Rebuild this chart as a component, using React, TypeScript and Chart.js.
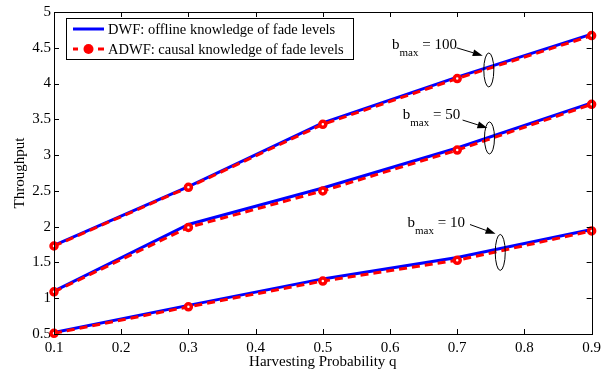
import React, { useEffect, useRef } from "react";
import { Chart, registerables } from "chart.js";

Chart.register(...registerables);

// ---------- data ----------
const qValues = [0.1, 0.3, 0.5, 0.7, 0.9];
const dwf100 = [1.74, 2.56, 3.45, 4.09, 4.69];
const adwf100 = [1.73, 2.55, 3.43, 4.07, 4.67];
const dwf50 = [1.1, 2.03, 2.54, 3.1, 3.73];
const adwf50 = [1.09, 1.99, 2.5, 3.07, 3.71];
const dwf10 = [0.52, 0.9, 1.27, 1.57, 1.96];
const adwf10 = [0.51, 0.88, 1.24, 1.53, 1.94];

const xTicks = [0.1, 0.2, 0.3, 0.4, 0.5, 0.6, 0.7, 0.8, 0.9];
const yTicks = [0.5, 1, 1.5, 2, 2.5, 3, 3.5, 4, 4.5, 5];
const xTickLabels = ["0.1", "0.2", "0.3", "0.4", "0.5", "0.6", "0.7", "0.8", "0.9"];
const yTickLabels = ["0.5", "1", "1.5", "2", "2.5", "3", "3.5", "4", "4.5", "5"];

const legendLabels = [
  "DWF: offline knowledge of fade levels",
  "ADWF: causal knowledge of fade levels",
];

// annotations (in data coordinates)
const annLabels = ["100", "50", "10"];
const annText = [
  [0.603, 4.48],
  [0.619, 3.51],
  [0.626, 1.99],
];
const annArrowFrom = [
  [0.699, 4.5],
  [0.708, 3.49],
  [0.719, 2.03],
];
const annArrowTo = [
  [0.738, 4.39],
  [0.745, 3.38],
  [0.757, 1.9],
];
const annEllipse = [
  [0.747, 4.19],
  [0.748, 3.24],
  [0.764, 1.64],
];
const annEllipseRy = [17, 16, 18];

const SERIF = '"Liberation Serif", "Times New Roman", serif';
const BLUE = "#0000ff";
const RED = "#ff0000";

const toPts = (ys: number[]) => qValues.map((q, i) => ({ x: q, y: ys[i] }));

const matlabPlugin = {
  id: "matlabDecor",
  afterDraw(chart: any) {
    const { ctx, chartArea } = chart;
    const { left, right, top, bottom } = chartArea;
    const xs = chart.scales.x;
    const ys = chart.scales.y;
    ctx.save();
    // frame
    ctx.strokeStyle = "#000";
    ctx.lineWidth = 1;
    ctx.strokeRect(Math.round(left) + 0.5, Math.round(top) + 0.5, Math.round(right - left), Math.round(bottom - top));
    // inward ticks
    const tl = 5;
    ctx.beginPath();
    xTicks.forEach((v) => {
      const px = Math.round(xs.getPixelForValue(v)) + 0.5;
      ctx.moveTo(px, bottom);
      ctx.lineTo(px, bottom - tl);
      ctx.moveTo(px, top);
      ctx.lineTo(px, top + tl);
    });
    yTicks.forEach((v) => {
      const py = Math.round(ys.getPixelForValue(v)) + 0.5;
      ctx.moveTo(left, py);
      ctx.lineTo(left + tl, py);
      ctx.moveTo(right, py);
      ctx.lineTo(right - tl, py);
    });
    ctx.stroke();

    // legend
    const lx = left + 12;
    const ly = top + 6;
    const lw = 287;
    const lh = 41;
    ctx.fillStyle = "#fff";
    ctx.fillRect(lx, ly, lw, lh);
    ctx.strokeStyle = "#000";
    ctx.lineWidth = 1;
    ctx.strokeRect(lx + 0.5, ly + 0.5, lw, lh);
    const row1 = ly + 11;
    const row2 = ly + 31;
    ctx.lineWidth = 3;
    ctx.strokeStyle = BLUE;
    ctx.beginPath();
    ctx.moveTo(lx + 7, row1);
    ctx.lineTo(lx + 38, row1);
    ctx.stroke();
    ctx.strokeStyle = RED;
    ctx.beginPath();
    ctx.moveTo(lx + 7, row2);
    ctx.lineTo(lx + 12, row2);
    ctx.moveTo(lx + 32, row2);
    ctx.lineTo(lx + 38, row2);
    ctx.stroke();
    ctx.fillStyle = RED;
    ctx.beginPath();
    ctx.arc(lx + 22.5, row2, 5, 0, Math.PI * 2);
    ctx.fill();
    ctx.fillStyle = "#000";
    ctx.font = `14.5px ${SERIF}`;
    ctx.textBaseline = "middle";
    ctx.textAlign = "left";
    ctx.fillText(legendLabels[0], lx + 42, row1 + 1);
    ctx.fillText(legendLabels[1], lx + 42, row2 + 1);

    // annotations
    annLabels.forEach((lab, i) => {
      const tx = xs.getPixelForValue(annText[i][0]);
      const ty = ys.getPixelForValue(annText[i][1]);
      ctx.fillStyle = "#000";
      ctx.textBaseline = "alphabetic";
      ctx.font = `15px ${SERIF}`;
      ctx.fillText("b", tx, ty);
      const bw = ctx.measureText("b").width;
      ctx.font = `11px ${SERIF}`;
      ctx.fillText("max", tx + bw, ty + 7);
      const mw = ctx.measureText("max").width;
      ctx.font = `15px ${SERIF}`;
      ctx.fillText(" = " + lab, tx + bw + mw, ty);

      const ax0 = xs.getPixelForValue(annArrowFrom[i][0]);
      const ay0 = ys.getPixelForValue(annArrowFrom[i][1]);
      const ax1 = xs.getPixelForValue(annArrowTo[i][0]);
      const ay1 = ys.getPixelForValue(annArrowTo[i][1]);
      const ang = Math.atan2(ay1 - ay0, ax1 - ax0);
      const hl = 10;
      const hw = 3.5;
      const bx = ax1 - hl * Math.cos(ang);
      const by = ay1 - hl * Math.sin(ang);
      ctx.strokeStyle = "#000";
      ctx.lineWidth = 1;
      ctx.beginPath();
      ctx.moveTo(ax0, ay0);
      ctx.lineTo(bx, by);
      ctx.stroke();
      ctx.beginPath();
      ctx.moveTo(ax1, ay1);
      ctx.lineTo(bx - hw * Math.sin(ang), by + hw * Math.cos(ang));
      ctx.lineTo(bx + hw * Math.sin(ang), by - hw * Math.cos(ang));
      ctx.closePath();
      ctx.fill();

      const ex = xs.getPixelForValue(annEllipse[i][0]);
      const ey = ys.getPixelForValue(annEllipse[i][1]);
      ctx.beginPath();
      ctx.ellipse(ex, ey, 5, annEllipseRy[i], 0, 0, Math.PI * 2);
      ctx.stroke();
    });
    ctx.restore();
  },
};

export default function App() {
  const ref = useRef<HTMLCanvasElement | null>(null);
  useEffect(() => {
    if (!ref.current) return;
    const blueDs = (ys: number[]) => ({
      data: toPts(ys),
      borderColor: BLUE,
      backgroundColor: BLUE,
      borderWidth: 3,
      pointRadius: 0,
      tension: 0,
      clip: false as any,
      order: 2,
    });
    const redDs = (ys: number[]) => ({
      data: toPts(ys),
      borderColor: RED,
      backgroundColor: RED,
      borderWidth: 3,
      borderDash: [8, 5],
      pointRadius: 3,
      pointBorderWidth: 3.5,
      pointBorderColor: RED,
      pointBackgroundColor: "#fff",
      tension: 0,
      clip: false as any,
      order: 1,
    });
    const chart = new Chart(ref.current, {
      type: "line",
      data: {
        datasets: [
          blueDs(dwf100),
          redDs(adwf100),
          blueDs(dwf50),
          redDs(adwf50),
          blueDs(dwf10),
          redDs(adwf10),
        ] as any,
      },
      options: {
        animation: false,
        responsive: false,
        layout: { padding: { top: 11, right: 14, left: 0, bottom: 0 } },
        plugins: { legend: { display: false }, tooltip: { enabled: false } },
        scales: {
          x: {
            type: "linear",
            min: 0.1,
            max: 0.9,
            grid: { display: false, drawTicks: false },
            border: { display: false },
            afterBuildTicks: (s: any) => {
              s.ticks = xTicks.map((v) => ({ value: v }));
            },
            afterFit: (s: any) => {
              s.height = 38;
            },
            ticks: {
              color: "#000",
              padding: 5,
              maxRotation: 0,
              autoSkip: false,
              font: { family: SERIF, size: 15 },
              callback: (v: any) => {
                const i = xTicks.findIndex((t) => Math.abs(t - v) < 1e-9);
                return i >= 0 ? xTickLabels[i] : "";
              },
            },
            title: {
              display: true,
              text: "Harvesting Probability q",
              color: "#000",
              font: { family: SERIF, size: 15 },
              padding: { top: 0, bottom: 1 },
            },
          },
          y: {
            type: "linear",
            min: 0.5,
            max: 5,
            grid: { display: false, drawTicks: false },
            border: { display: false },
            afterBuildTicks: (s: any) => {
              s.ticks = yTicks.map((v) => ({ value: v }));
            },
            afterFit: (s: any) => {
              s.width = 54;
            },
            ticks: {
              color: "#000",
              padding: 3,
              autoSkip: false,
              font: { family: SERIF, size: 15 },
              callback: (v: any) => {
                const i = yTicks.findIndex((t) => Math.abs(t - v) < 1e-9);
                return i >= 0 ? yTickLabels[i] : "";
              },
            },
            title: {
              display: true,
              text: "Throughput",
              color: "#000",
              font: { family: SERIF, size: 15 },
              padding: { top: 11, bottom: 0 },
            },
          },
        },
      },
      plugins: [matlabPlugin],
    });
    return () => chart.destroy();
  }, []);
  return (
    <canvas
      ref={ref}
      width={606}
      height={372}
      style={{ position: "absolute", left: 0, top: 0, width: 606, height: 372 }}
    />
  );
}
